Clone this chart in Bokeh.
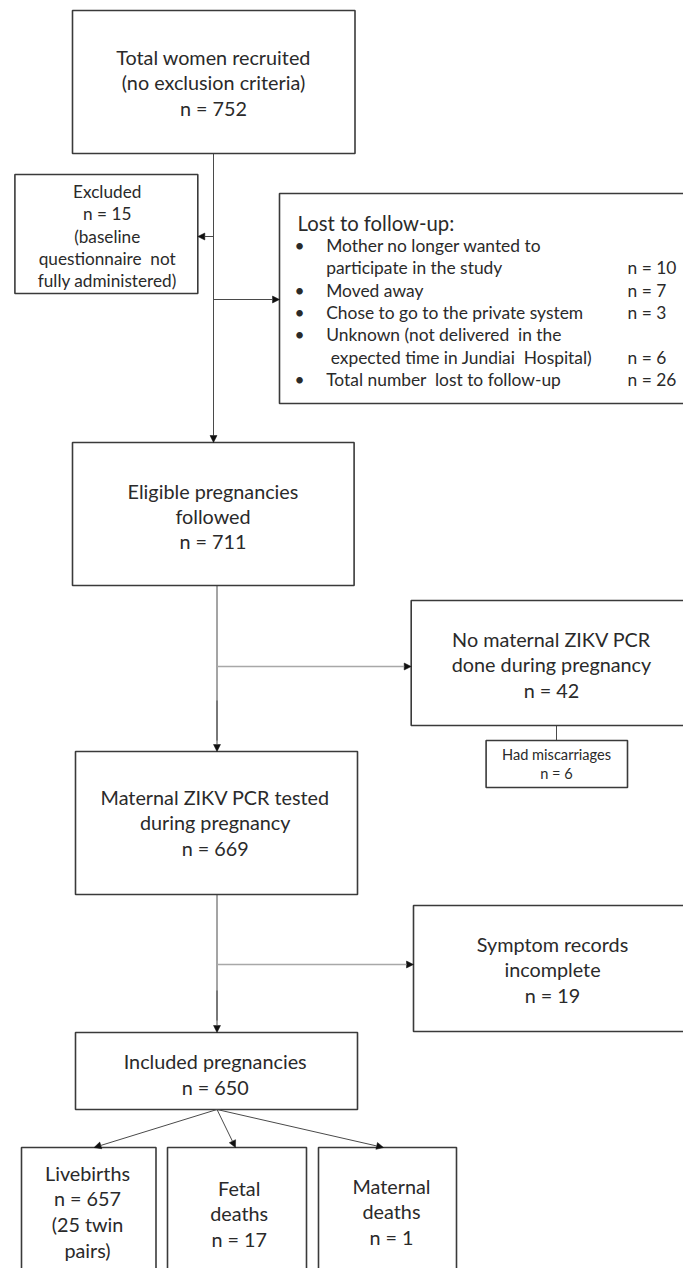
from bokeh.plotting import figure
from bokeh.models import Range1d, Arrow, NormalHead
from bokeh.embed import file_html
from bokeh.resources import INLINE
from bokeh.core.properties import value

FONT = "Lato"

# ---------------- data ----------------
node_ids = ["total", "excluded", "eligible", "no_pcr", "miscarriage", "tested",
            "symptom", "included", "livebirths", "fetal", "maternal"]
node_labels = [
    ["Total women recruited", "(no exclusion criteria)"],
    ["Excluded"],
    ["Eligible pregnancies", "followed"],
    ["No maternal ZIKV PCR", "done during pregnancy"],
    ["Had miscarriages"],
    ["Maternal ZIKV PCR tested", "during pregnancy"],
    ["Symptom records", "incomplete"],
    ["Included pregnancies"],
    ["Livebirths"],
    ["Fetal", "deaths"],
    ["Maternal", "deaths"],
]
node_counts = [752, 15, 711, 42, 6, 669, 19, 650, 657, 17, 1]
node_notes = [[], ["(baseline", "questionnaire\u00a0 not", "fully administered)"], [], [], [], [],
              [], [], ["(25 twin", "pairs)"], [], []]

lost_title = "Lost to follow-up:"
lost_reason_lines = [["Mother no longer wanted to", "participate in the study"],
                     ["Moved away"],
                     ["Chose to go to the private system"],
                     ["Unknown (not delivered\u00a0 in the", "\u00a0expected time in Jundiai\u00a0 Hospital)"],
                     ["Total number\u00a0 lost to follow-up"]]
lost_counts = [10, 7, 3, 6, 26]

# ---------------- layout (page pixels) ----------------
# box: left, top, right, bottom ; text: center x, first line y, spacing, size
layout = {
    "total":       ((72, 10, 354.5, 153),   (213, 56, 25.5, 19.8)),
    "excluded":    ((14.4, 174, 197.3, 293), (106.7, 191, 22.3, 17.2)),
    "eligible":    ((72, 442, 353.6, 585),  (212.5, 490, 25.3, 19.8)),
    "no_pcr":      ((410.7, 600, 700, 725), (551, 638, 25.5, 19.8)),
    "miscarriage": ((485.6, 740, 627, 787), (556, 754, 19, 14.6)),
    "tested":      ((75, 751, 357, 894),    (214.7, 796, 25.5, 19.8)),
    "symptom":     ((413, 905, 700, 1031),  (552, 943, 25.5, 19.8)),
    "included":    ((75, 1032, 357, 1109),  (214.7, 1060, 26, 19.8)),
    "livebirths":  ((21, 1147, 155.5, 1300), (87, 1172, 25.7, 19.8)),
    "fetal":       ((167, 1147, 306, 1300), (238.7, 1187, 25.5, 19.8)),
    "maternal":    ((318, 1147, 456, 1300), (391, 1185, 25.5, 19.8)),
}
lost_box = (279, 193, 700, 403)

BORDER = "#3a3a3a"
TEXT = "#2a2a2a"
LINE = "#4a4a4a"
LIGHT = "#a8a8a8"

W, H = 683, 1268
p = figure(width=W, height=H, output_backend="svg", toolbar_location=None,
           x_range=Range1d(0, W), y_range=Range1d(H, 0),
           min_border=0, tools="")
p.xaxis.visible = False
p.yaxis.visible = False
p.grid.visible = False
p.outline_line_color = None
p.background_fill_color = "white"


def box(b):
    l, t, r, btm = b
    p.quad(left=[l], right=[r], top=[t], bottom=[btm], fill_color="white",
           line_color=BORDER, line_width=1.6)


def seg(x0, y0, x1, y1, color=LINE, w=1.0):
    p.line([x0, x1], [y0, y1], line_color=color, line_width=w)


def arrow(x0, y0, x1, y1, color=LINE, w=1.0):
    p.add_layout(Arrow(end=NormalHead(size=7, fill_color="#111", line_color="#111", line_width=0.5),
                       x_start=x0, y_start=y0, x_end=x1, y_end=y1,
                       line_color=color, line_width=w))


seg(213, 153, 213, 436)
arrow(213, 236, 197.3, 236)
arrow(213, 299, 279, 299)
arrow(213, 400, 213, 442)
seg(216.5, 585, 216.5, 740)
arrow(216.5, 700, 216.5, 751)
arrow(216.5, 666, 410.7, 666, color=LIGHT, w=1.3)
seg(556, 725, 556, 740)
seg(216.5, 894, 216.5, 1020)
arrow(216.5, 990, 216.5, 1032)
arrow(216.5, 964, 413, 964, color=LIGHT, w=1.3)
for tx in [93.6, 235, 383]:
    arrow(216.5, 1109, tx, 1147)

for b_id in node_ids:
    box(layout[b_id][0])
box(lost_box)

# node texts
for i, nid in enumerate(node_ids):
    cx, y0, dy, fs = layout[nid][1]
    lines = node_labels[i] + [f"n = {node_counts[i]}"] + node_notes[i]
    ys = [y0 + k * dy for k in range(len(lines))]
    p.text(x=[cx] * len(lines), y=ys, text=lines, text_align="center",
           text_baseline="middle", text_font=value(FONT),
           text_font_size=f"{fs}px", text_color=TEXT)

# lost to follow-up box text
LFS = "17.4px"
p.text(x=[297], y=[222], text=[lost_title], text_align="left", text_baseline="middle",
       text_font=value(FONT), text_font_size="20.3px", text_color=TEXT)
y = 245
line_dy = 22.3
bys, tys, ttxt, nys, ntxt = [], [], [], [], []
for lines, c in zip(lost_reason_lines, lost_counts):
    bys.append(y)
    for k, ln in enumerate(lines):
        tys.append(y)
        ttxt.append(ln)
        if k < len(lines) - 1:
            y += line_dy
    nys.append(y)
    ntxt.append(f"n = {c}")
    y += line_dy
p.text(x=[299] * len(bys), y=bys, text=["\u2022"] * len(bys), text_align="center",
       text_baseline="middle", text_font=value(FONT), text_font_size=LFS, text_color=TEXT)
p.text(x=[325.7] * len(tys), y=tys, text=ttxt, text_align="left",
       text_baseline="middle", text_font=value(FONT), text_font_size=LFS, text_color=TEXT)
p.text(x=[627] * len(nys), y=nys, text=ntxt, text_align="left",
       text_baseline="middle", text_font=value(FONT), text_font_size=LFS, text_color=TEXT)

open("out.html", "w").write(file_html(p, INLINE))
